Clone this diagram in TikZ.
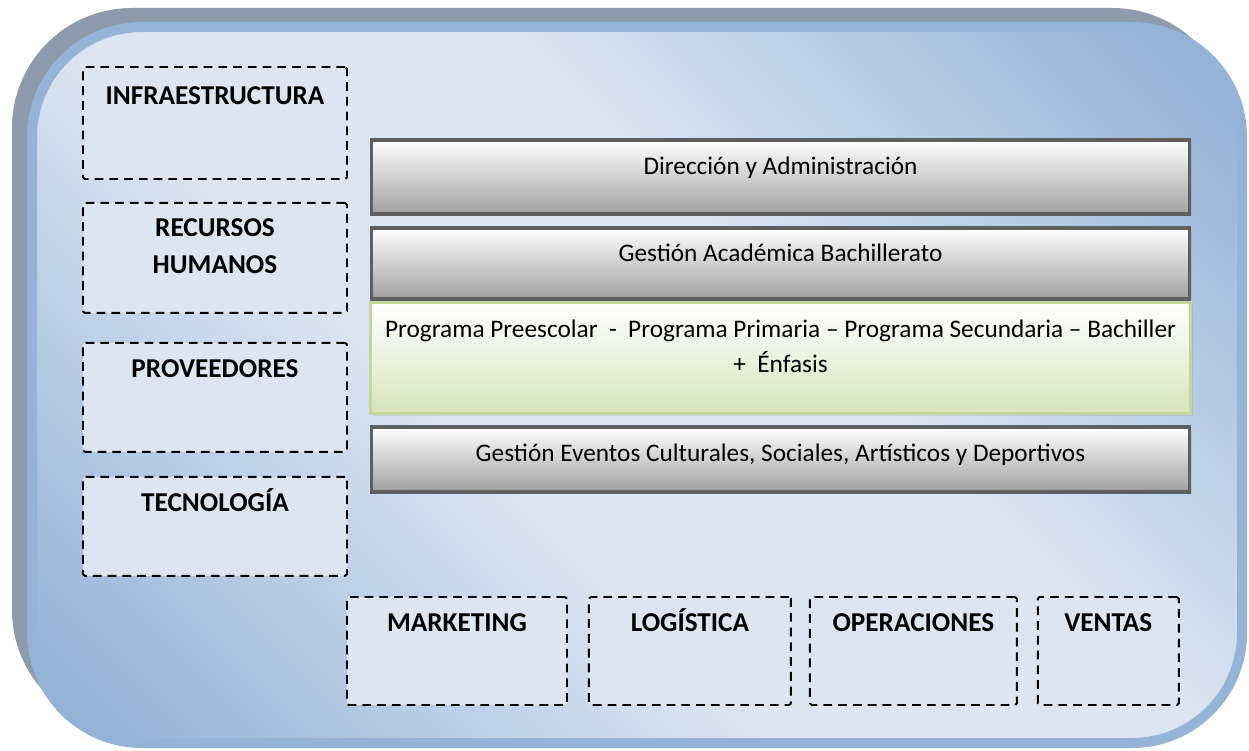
\documentclass[tikz,border=0pt]{standalone}
\usepackage{fontspec}
\setmainfont{Carlito}
\usetikzlibrary{positioning,shadows}
\definecolor{frameblue}{HTML}{95B3D7}
\definecolor{framegrey}{HTML}{8D9BAD}
\definecolor{bglight}{HTML}{DCE6F2}
\definecolor{bardark}{HTML}{5F5F5F}
\definecolor{greenedge}{HTML}{C3D69B}
\definecolor{greenfill}{HTML}{D7E4BD}
\pgfdeclarehorizontalshading{backdrop}{100bp}{color(0bp)=(frameblue); color(18bp)=(frameblue); color(42bp)=(bglight); color(58bp)=(bglight); color(82bp)=(frameblue); color(100bp)=(frameblue)}
\tikzstyle{area} = [rectangle, draw=black, dash pattern=on 5pt off 3.4pt, line width=1.1pt, fill=bglight, rounded corners=1pt]
\tikzstyle{area-label} = [anchor=north, inner sep=0pt, yshift=-5.3pt, align=center, font=\fontsize{15.5}{21}\selectfont\bfseries, execute at begin node=\strut]
\tikzstyle{process-bar} = [rectangle, draw=bardark, line width=2.1pt, top color=white, bottom color=gray!75, minimum width=16.36cm, drop shadow={shadow xshift=0.05cm, shadow yshift=-0.05cm, opacity=0.18}]
\tikzstyle{program-bar} = [rectangle, draw=greenedge, line width=1.9pt, top color=white, bottom color=greenfill, minimum width=16.40cm, drop shadow={shadow xshift=0.05cm, shadow yshift=-0.05cm, opacity=0.18}]
\tikzstyle{bar-label} = [anchor=north, inner sep=0pt, yshift=-6.5pt, align=center, font=\fontsize{14.4}{19.8}\selectfont, execute at begin node=\strut]
\begin{document}
\begin{tikzpicture}
        \useasboundingbox (0,0) rectangle (24.98,-15.02);
        % frame
        \fill[framegrey, rounded corners=2.4cm] (0.24,-0.16) rectangle (24.64,-14.6);
        \shadedraw[draw=frameblue, line width=0.2cm, rounded corners=2.2cm, shading=backdrop, shading angle=45] (0.64,-0.54) rectangle (24.84,-14.86);

        % support areas
        \node (infraestructura) [area, minimum width=5.28cm, minimum height=2.24cm, label={[area-label, yshift=-1.5pt]north:INFRAESTRUCTURA}] at (4.30,-2.46) {};
        \node (recursos-humanos) [area, minimum width=5.28cm, minimum height=2.20cm, below=0.44cm of infraestructura, label={[area-label, yshift=-4pt]north:RECURSOS\\HUMANOS}] {};
        \node (proveedores) [area, minimum width=5.28cm, minimum height=2.18cm, below=0.56cm of recursos-humanos, label={[area-label]north:PROVEEDORES}] {};
        \node (tecnologia) [area, minimum width=5.28cm, minimum height=1.98cm, below=0.46cm of proveedores, label={[area-label]north:TECNOLOGÍA}] {};

        \node (marketing) [area, minimum width=4.40cm, minimum height=2.16cm, label={[area-label]north:MARKETING}] at (9.14,-13.02) {};
        \node (logistica) [area, minimum width=4.04cm, minimum height=2.16cm, right=0.40cm of marketing, label={[area-label]north:LOGÍSTICA}] {};
        \node (operaciones) [area, minimum width=4.14cm, minimum height=2.16cm, right=0.34cm of logistica, label={[area-label]north:OPERACIONES}] {};
        \node (ventas) [area, minimum width=2.82cm, minimum height=2.16cm, right=0.38cm of operaciones, label={[area-label]north:VENTAS}] {};

        % core processes
        \node (direccion-administracion) [process-bar, minimum height=1.48cm, label={[bar-label]north:Dirección y Administración}] at (15.61,-3.54) {};
        \node (gestion-academica) [process-bar, minimum height=1.42cm, below=0.20cm of direccion-administracion, label={[bar-label]north:Gestión Académica Bachillerato}] {};
        \node (programas) [program-bar, minimum height=2.22cm, below=0cm of gestion-academica, label={[bar-label, yshift=-4.5pt]north:Programa Preescolar\ \ -\ \ Programa Primaria – Programa Secundaria – Bachiller\\+\ \ Énfasis}] {};
        \node (gestion-eventos) [process-bar, minimum height=1.30cm, below=0.20cm of programas, label={[bar-label]north:Gestión Eventos Culturales, Sociales, Artísticos y Deportivos}] {};
\end{tikzpicture}
\end{document}
